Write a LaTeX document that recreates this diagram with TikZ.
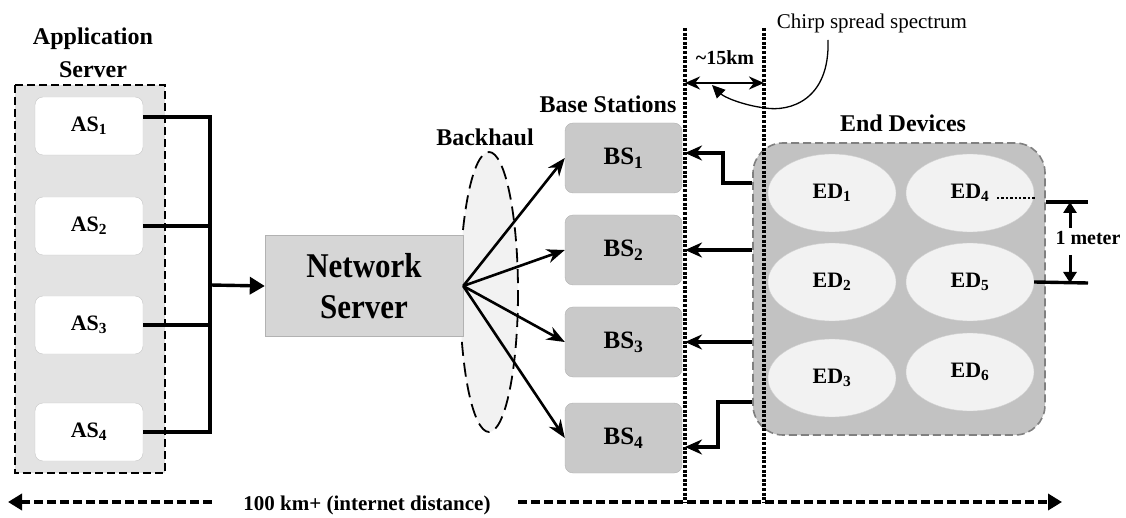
\documentclass[tikz,border=0pt]{standalone}
\usepackage{fontspec}
\setmainfont{Liberation Serif}
\usetikzlibrary{arrows.meta,shapes.geometric}
\begin{document}
\begin{tikzpicture}[x=1pt,y=-1pt,
  lbl/.style={font=\bfseries\fontsize{#1}{#1}\selectfont},
  asbox/.style={draw=black!22,fill=white,rounded corners=8pt,minimum width=108pt,minimum height=58pt,lbl=22},
  bsbox/.style={draw=black!30,fill=black!21,rounded corners=8pt,minimum width=117pt,minimum height=70pt,lbl=25},
  edell/.style={ellipse,draw=black!18,fill=black!5,minimum width=128pt,minimum height=78pt,inner sep=0pt,lbl=22},
  conn/.style={line width=3.4pt},
  fan/.style={line width=2.6pt,-{Stealth[length=18pt,width=14pt]}},
  tip/.style={-{Stealth[length=17pt,width=15pt]}},
  sepline/.style={line width=4pt,dash pattern=on 3pt off 1.6pt},
  distline/.style={line width=3.6pt,dash pattern=on 9pt off 4pt,-{Triangle[length=14pt,width=16pt]}}]
\useasboundingbox (0,0) rectangle (1126,518);
\coordinate (d1) at (685,28);
\coordinate (d2) at (764,28);
\coordinate (bus) at (210,285);
\coordinate (distL) at (8,502);
\coordinate (distR) at (1062,502);
\coordinate (gapL) at (212,502);
\coordinate (gapR) at (518,502);
% application servers
\draw[fill=black!11,line width=2.6pt,dash pattern=on 8pt off 4pt] (15,85) rectangle (165,473);
\node[lbl=24,anchor=base] at (93,45) {Application};
\node[lbl=24,anchor=base] at (93,78) {Server};
\node[asbox] (as1) at (89,126) {AS\textsubscript{1}};
\node[asbox] (as2) at (89,226) {AS\textsubscript{2}};
\node[asbox] (as3) at (89,325) {AS\textsubscript{3}};
\node[asbox] (as4) at (89,432) {AS\textsubscript{4}};
\draw[conn] ([yshift=9pt]as1.east) -| (bus |- as4.east) -- (as4.east);
\draw[conn] (as2.east) -- (bus |- as2.east);
\draw[conn] (as3.east) -- (bus |- as3.east);
% network server and backhaul
\draw[fill=black!5,line width=1.8pt,dash pattern=on 14pt off 7pt] (489,292) ellipse [x radius=29,y radius=140];
\node[lbl=24,anchor=base] at (485,146) {Backhaul};
\node[draw=black!30,fill=black!16,minimum width=198pt,minimum height=101pt,align=center,font=\bfseries\fontsize{31}{41}\selectfont] (nss) at (364,286) {\scalebox{1}[1.12]{Network}\\\scalebox{1}[1.12]{Server}};
\draw[conn,-{Triangle[length=15pt,width=17pt]}] (bus) -- (nss.west);
% base stations
\node[lbl=24,anchor=base] at (608,113) {Base Stations};
\node[bsbox] (bs1) at (623.5,158) {BS\textsubscript{1}};
\node[bsbox] (bs2) at (623.5,250) {BS\textsubscript{2}};
\node[bsbox] (bs3) at (623.5,342) {BS\textsubscript{3}};
\node[bsbox] (bs4) at (623.5,438) {BS\textsubscript{4}};
\foreach \i in {1,...,4} \draw[fan] (nss.east) -- (bs\i.west);
% end devices
\node[lbl=24,anchor=base] at (903,132) {End Devices};
\node[draw=black!50,fill=black!24,rounded corners=30pt,line width=1.6pt,dash pattern=on 8pt off 4pt,minimum width=292pt,minimum height=292pt] (edbox) at (899,289) {};
\node[edell] (ed1) at (832,193) {ED\textsubscript{1}};
\node[edell] (ed2) at (832,282) {ED\textsubscript{2}};
\node[edell] (ed3) at (832,378) {ED\textsubscript{3}};
\node[edell] (ed4) at (970,193) {ED\textsubscript{4}};
\node[edell] (ed5) at (970,282) {ED\textsubscript{5}};
\node[edell] (ed6) at (970,372) {ED\textsubscript{6}};
\draw[sepline] (d1) -- (d1 |- distR);
\draw[sepline] (d2) -- (d2 |- distR);
\draw[conn,tip] (edbox.west |- 0,183) -| (723,153) -- (d1 |- 0,153);
\draw[conn,tip] (edbox.west |- bs2.east) -- (d1 |- bs2.east);
\draw[conn,tip] (edbox.west |- bs3.east) -- (d1 |- bs3.east);
\draw[conn,tip] (edbox.west |- 0,402) -| (718,447) -- (d1 |- 0,447);
% range and chirp
\node[lbl=20,anchor=base] at (725,65) {\textasciitilde15km};
\draw[line width=2.6pt,{Stealth[length=15pt,width=13pt]}-{Stealth[length=15pt,width=13pt]}] (d1 |- 0,83) -- (d2 |- 0,83);
\node[font=\fontsize{21}{21}\selectfont,anchor=base] (chirp) at (872,29) {Chirp spread spectrum};
\draw[line width=1.3pt,-{Triangle[length=13pt,width=12pt]}] (828,40) .. controls (830,100) and (790,112) .. (765,108) .. controls (742,105) and (724,97) .. (712,85);
% one meter
\draw[line width=2.4pt,dash pattern=on 2.4pt off 2pt] (997,198) -- (1036,198);
\draw[conn] (edbox.east |- 0,202) -- (1088,202);
\draw[conn] (ed5.east) -- (1088,283);
\draw[line width=3pt,-{Triangle[length=11pt,width=13pt]}] (1070,228) -- (1070,202);
\draw[line width=3pt,-{Triangle[length=11pt,width=13pt]}] (1070,255) -- (1070,283);
\node[lbl=20,anchor=base] at (1088,245) {1 meter};
% distance
\node[lbl=21,anchor=base] (dist) at (367,510) {100 km+ (internet distance)};
\draw[distline] (gapL) -- (distL);
\draw[distline] (gapR) -- (distR);
\end{tikzpicture}
\end{document}
